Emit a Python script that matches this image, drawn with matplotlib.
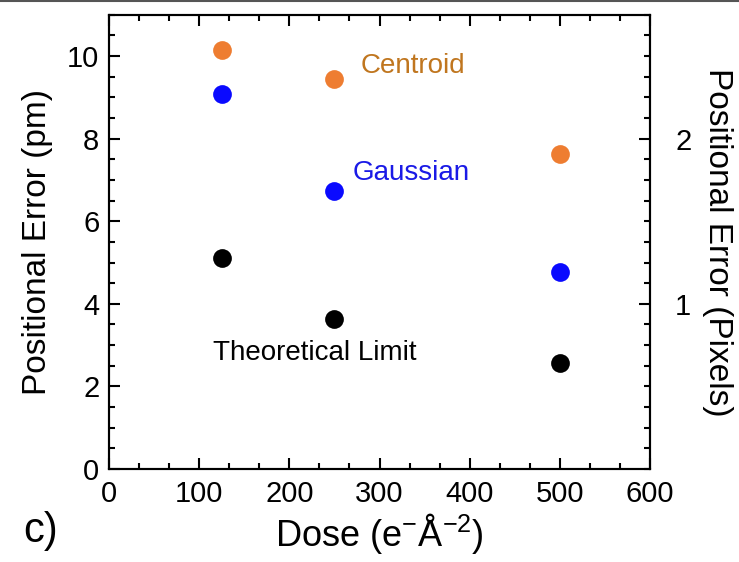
import matplotlib
matplotlib.use("Agg")
import matplotlib.pyplot as plt
from matplotlib.lines import Line2D
from matplotlib.ticker import MultipleLocator, FixedLocator

plt.rcParams["font.family"] = ["Liberation Sans", "DejaVu Sans"]
plt.rcParams["mathtext.fontset"] = "custom"
plt.rcParams["mathtext.rm"] = "Liberation Sans"
plt.rcParams["mathtext.it"] = "Liberation Sans:italic"

# dose (e-/A^2) and positional error (pm)
dose = [125, 250, 500]
centroid = [10.15, 9.45, 7.63]
gaussian = [9.07, 6.73, 4.77]
theory = [5.12, 3.62, 2.57]

PM_PER_PIXEL = 4.0

fig = plt.figure(figsize=(7.39, 5.62), dpi=100)
ax = fig.add_axes([0.1475, 0.1655, 0.7321, 0.8083])

ms = 13.5
ax.plot(dose, centroid, "o", color="#ee7d31", ms=ms, mec="none")
ax.plot(dose, gaussian, "o", color="#0a0aff", ms=ms, mec="none")
ax.plot(dose, theory, "o", color="black", ms=ms, mec="none")

ax.text(279, 9.76, "Centroid", color="#c0761f", fontsize=20, va="center")
ax.text(270, 7.17, "Gaussian", color="#1a1ae6", fontsize=20, va="center")
ax.text(115, 2.80, "Theoretical Limit", color="black", fontsize=20, va="center")

ax.set_xlim(0, 600)
ax.set_ylim(0, 11)
ax.xaxis.set_major_locator(MultipleLocator(100))
ax.xaxis.set_minor_locator(MultipleLocator(100 / 3))
ax.yaxis.set_major_locator(MultipleLocator(2))
ax.yaxis.set_minor_locator(MultipleLocator(0.5))
ax.tick_params(which="both", direction="in", top=True, width=1.5, labelsize=21)
ax.tick_params(which="major", length=8)
ax.tick_params(which="minor", length=4)
ax.tick_params(axis="x", pad=8)
ax.tick_params(axis="y", pad=7)
for s in ax.spines.values():
    s.set_linewidth(1.5)

ax.set_xlabel(r"Dose (e$^{-}$Å$^{-2}$)", fontsize=26, labelpad=2)
ax.set_ylabel("Positional Error (pm)", fontsize=24, labelpad=10)

# secondary axis in detector pixels
ax2 = ax.twinx()
ax2.set_ylim(0, 11 / PM_PER_PIXEL)
ax2.yaxis.set_major_locator(FixedLocator([1, 2]))
ax2.yaxis.set_minor_locator(MultipleLocator(0.5 / PM_PER_PIXEL))
ax2.tick_params(which="both", direction="in", width=1.5, labelsize=21)
ax2.tick_params(which="major", length=8, pad=18)
ax2.tick_params(which="minor", length=4)
ax2.set_ylabel("Positional Error (Pixels)", fontsize=24, rotation=270,
               labelpad=30)
for s in ax2.spines.values():
    s.set_linewidth(1.5)

fig.text(0.032, 0.035, "c)", fontsize=30)

# thin dark rule along the top edge of the panel
fig.add_artist(Line2D([0, 1], [0.998, 0.998], transform=fig.transFigure,
                      color="#555555", lw=1.5))

fig.savefig("out.png", dpi=100)
